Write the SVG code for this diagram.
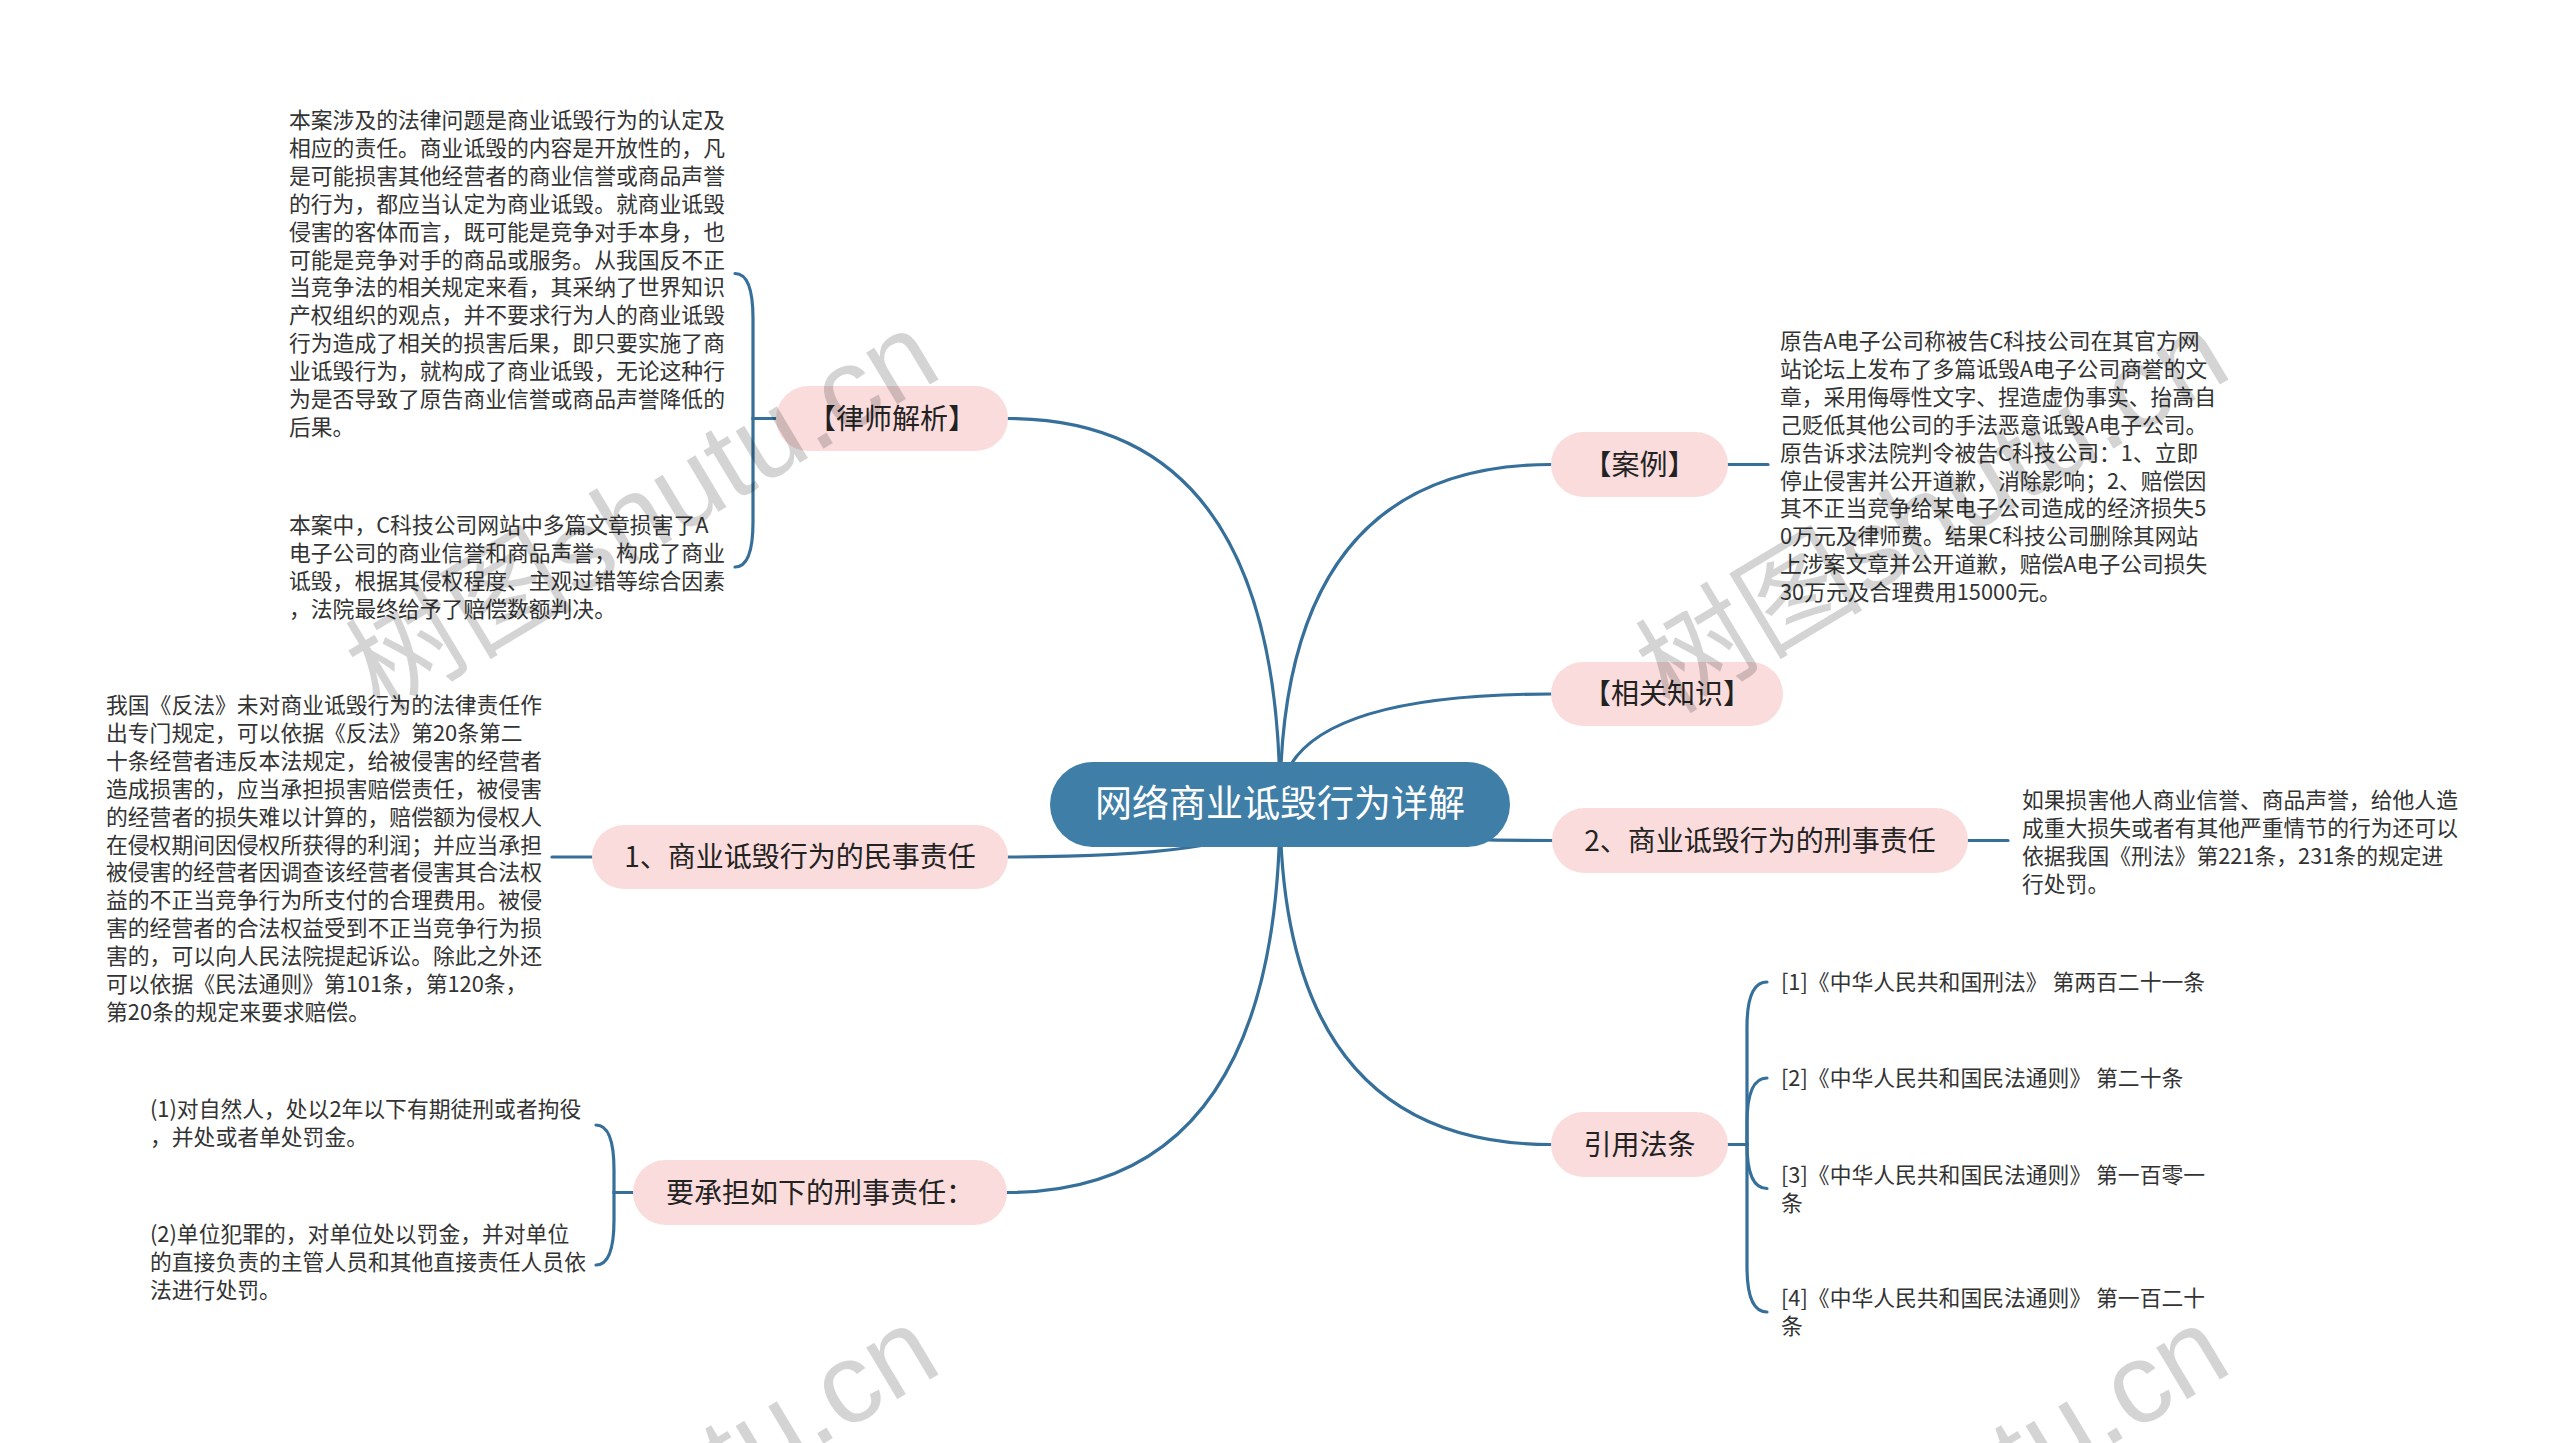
<svg xmlns="http://www.w3.org/2000/svg" width="2560" height="1443" viewBox="0 0 2560 1443">
<style>
.bg{fill:#ffffff}
.lnk{fill:none;stroke:#36709a;stroke-width:3.2;stroke-linecap:round}
.root{fill:#3f7ea6}
.rootT{font-family:"Noto Sans CJK SC",sans-serif;font-size:37px;fill:#ffffff;text-anchor:middle}
.l1{fill:#fadcdc}
.l1T{font-family:"Noto Sans CJK SC",sans-serif;font-size:28px;fill:#222222;text-anchor:middle}
.body{font-family:"Noto Sans CJK SC",sans-serif;font-size:21.8px;fill:#333333}
.wm{font-family:"Liberation Sans","Noto Sans CJK SC",sans-serif;font-size:114px;fill:#000000;fill-opacity:0.17}
</style>
<rect class="bg" x="0" y="0" width="2560" height="1443"/>
<g id="connectors">
<path class="lnk" d="M1280 804 Q1280 418.5 1008 418.5"/>
<path class="lnk" d="M1280 804 Q1280 464.5 1551 464.5"/>
<path class="lnk" d="M1280 804 Q1280 694 1551 694"/>
<path class="lnk" d="M1280 804 Q1280 840.5 1552 840.5"/>
<path class="lnk" d="M1280 804 Q1280 857 1008 857"/>
<path class="lnk" d="M1280 804 Q1280 1192.5 1007 1192.5"/>
<path class="lnk" d="M1280 804 Q1280 1144.5 1551 1144.5"/>
<path class="lnk" d="M776 418.5 H753 V318.5 Q753 273.5 735 273.5"/>
<path class="lnk" d="M776 418.5 H753 V522 Q753 567 735 567"/>
<path class="lnk" d="M633 1192.5 H614 V1170 Q614 1125 596 1125"/>
<path class="lnk" d="M633 1192.5 H614 V1220 Q614 1265 596 1265"/>
<path class="lnk" d="M1728 1144.5 H1747 V1027 Q1747 982 1767 982"/>
<path class="lnk" d="M1728 1144.5 H1747 V1123 Q1747 1078 1767 1078"/>
<path class="lnk" d="M1728 1144.5 H1747 V1144.5 Q1747 1188.5 1767 1188.5"/>
<path class="lnk" d="M1728 1144.5 H1747 V1267 Q1747 1312 1767 1312"/>
<path class="lnk" d="M1728 464.5 H1768"/>
<path class="lnk" d="M1968 840.5 H2008"/>
<path class="lnk" d="M592 857 H552"/>
</g>
<g id="root">
<rect class="root" x="1050" y="762" width="460" height="85" rx="42.5"/>
<text class="rootT" x="1280" y="817">网络商业诋毁行为详解</text>
</g>
<g id="n-lawyer">
<rect class="l1" x="776" y="386" width="232" height="65" rx="32.5"/>
<text class="l1T" x="892" y="428.5">【律师解析】</text>
</g>
<g id="n-case">
<rect class="l1" x="1551" y="432" width="177" height="65" rx="32.5"/>
<text class="l1T" x="1639.5" y="474.5">【案例】</text>
</g>
<g id="n-know">
<rect class="l1" x="1551" y="662" width="232" height="64" rx="32"/>
<text class="l1T" x="1667" y="704">【相关知识】</text>
</g>
<g id="n-crim">
<rect class="l1" x="1552" y="808" width="416" height="65" rx="32.5"/>
<text class="l1T" x="1760" y="850.5">2、商业诋毁行为的刑事责任</text>
</g>
<g id="n-civil">
<rect class="l1" x="592" y="825" width="416" height="64" rx="32"/>
<text class="l1T" x="800" y="867">1、商业诋毁行为的民事责任</text>
</g>
<g id="n-cite">
<rect class="l1" x="1551" y="1112" width="177" height="65" rx="32.5"/>
<text class="l1T" x="1639.5" y="1154.5">引用法条</text>
</g>
<g id="n-bear">
<rect class="l1" x="633" y="1160" width="374" height="65" rx="32.5"/>
<text class="l1T" x="820" y="1202.5">要承担如下的刑事责任：</text>
</g>
<g id="t-lawyer-1">
<text class="body">
<tspan x="289" y="128">本案涉及的法律问题是商业诋毁行为的认定及</tspan>
<tspan x="289" y="155.9">相应的责任。商业诋毁的内容是开放性的，凡</tspan>
<tspan x="289" y="183.8">是可能损害其他经营者的商业信誉或商品声誉</tspan>
<tspan x="289" y="211.7">的行为，都应当认定为商业诋毁。就商业诋毁</tspan>
<tspan x="289" y="239.6">侵害的客体而言，既可能是竞争对手本身，也</tspan>
<tspan x="289" y="267.5">可能是竞争对手的商品或服务。从我国反不正</tspan>
<tspan x="289" y="295.4">当竞争法的相关规定来看，其采纳了世界知识</tspan>
<tspan x="289" y="323.3">产权组织的观点，并不要求行为人的商业诋毁</tspan>
<tspan x="289" y="351.2">行为造成了相关的损害后果，即只要实施了商</tspan>
<tspan x="289" y="379.1">业诋毁行为，就构成了商业诋毁，无论这种行</tspan>
<tspan x="289" y="407">为是否导致了原告商业信誉或商品声誉降低的</tspan>
<tspan x="289" y="434.9">后果。</tspan>
</text>
</g>
<g id="t-lawyer-2">
<text class="body">
<tspan x="289" y="533">本案中，C科技公司网站中多篇文章损害了A</tspan>
<tspan x="289" y="560.9">电子公司的商业信誉和商品声誉，构成了商业</tspan>
<tspan x="289" y="588.8">诋毁，根据其侵权程度、主观过错等综合因素</tspan>
<tspan x="289" y="616.7">，法院最终给予了赔偿数额判决。</tspan>
</text>
</g>
<g id="t-civil">
<text class="body">
<tspan x="106" y="713">我国《反法》未对商业诋毁行为的法律责任作</tspan>
<tspan x="106" y="740.9">出专门规定，可以依据《反法》第20条第二</tspan>
<tspan x="106" y="768.8">十条经营者违反本法规定，给被侵害的经营者</tspan>
<tspan x="106" y="796.7">造成损害的，应当承担损害赔偿责任，被侵害</tspan>
<tspan x="106" y="824.6">的经营者的损失难以计算的，赔偿额为侵权人</tspan>
<tspan x="106" y="852.5">在侵权期间因侵权所获得的利润；并应当承担</tspan>
<tspan x="106" y="880.4">被侵害的经营者因调查该经营者侵害其合法权</tspan>
<tspan x="106" y="908.3">益的不正当竞争行为所支付的合理费用。被侵</tspan>
<tspan x="106" y="936.2">害的经营者的合法权益受到不正当竞争行为损</tspan>
<tspan x="106" y="964.1">害的，可以向人民法院提起诉讼。除此之外还</tspan>
<tspan x="106" y="992">可以依据《民法通则》第101条，第120条，</tspan>
<tspan x="106" y="1019.9">第20条的规定来要求赔偿。</tspan>
</text>
</g>
<g id="t-bear-1">
<text class="body">
<tspan x="150" y="1117">(1)对自然人，处以2年以下有期徒刑或者拘役</tspan>
<tspan x="150" y="1145">，并处或者单处罚金。</tspan>
</text>
</g>
<g id="t-bear-2">
<text class="body">
<tspan x="150" y="1242">(2)单位犯罪的，对单位处以罚金，并对单位</tspan>
<tspan x="150" y="1270">的直接负责的主管人员和其他直接责任人员依</tspan>
<tspan x="150" y="1298">法进行处罚。</tspan>
</text>
</g>
<g id="t-case">
<text class="body">
<tspan x="1780" y="349">原告A电子公司称被告C科技公司在其官方网</tspan>
<tspan x="1780" y="376.9">站论坛上发布了多篇诋毁A电子公司商誉的文</tspan>
<tspan x="1780" y="404.8">章，采用侮辱性文字、捏造虚伪事实、抬高自</tspan>
<tspan x="1780" y="432.7">己贬低其他公司的手法恶意诋毁A电子公司。</tspan>
<tspan x="1780" y="460.6">原告诉求法院判令被告C科技公司：1、立即</tspan>
<tspan x="1780" y="488.5">停止侵害并公开道歉，消除影响；2、赔偿因</tspan>
<tspan x="1780" y="516.4">其不正当竞争给某电子公司造成的经济损失5</tspan>
<tspan x="1780" y="544.3">0万元及律师费。结果C科技公司删除其网站</tspan>
<tspan x="1780" y="572.2">上涉案文章并公开道歉，赔偿A电子公司损失</tspan>
<tspan x="1780" y="600.1">30万元及合理费用15000元。</tspan>
</text>
</g>
<g id="t-crim">
<text class="body">
<tspan x="2022" y="808">如果损害他人商业信誉、商品声誉，给他人造</tspan>
<tspan x="2022" y="836">成重大损失或者有其他严重情节的行为还可以</tspan>
<tspan x="2022" y="864">依据我国《刑法》第221条，231条的规定进</tspan>
<tspan x="2022" y="892">行处罚。</tspan>
</text>
</g>
<g id="t-cite-1">
<text class="body" x="1781" y="990">[1]《中华人民共和国刑法》 第两百二十一条</text>
</g>
<g id="t-cite-2">
<text class="body" x="1781" y="1086">[2]《中华人民共和国民法通则》 第二十条</text>
</g>
<g id="t-cite-3">
<text class="body">
<tspan x="1781" y="1183">[3]《中华人民共和国民法通则》 第一百零一</tspan>
<tspan x="1781" y="1211">条</tspan>
</text>
</g>
<g id="t-cite-4">
<text class="body">
<tspan x="1781" y="1306">[4]《中华人民共和国民法通则》 第一百二十</tspan>
<tspan x="1781" y="1334">条</tspan>
</text>
</g>
<g id="watermarks">
<text class="wm" x="380" y="715" transform="rotate(-31 380 715)">树图shutu.cn</text>
<text class="wm" x="1670" y="715" transform="rotate(-31 1670 715)">树图shutu.cn</text>
<text class="wm" x="380" y="1710" transform="rotate(-31 380 1710)">树图shutu.cn</text>
<text class="wm" x="1670" y="1710" transform="rotate(-31 1670 1710)">树图shutu.cn</text>
</g>
</svg>
